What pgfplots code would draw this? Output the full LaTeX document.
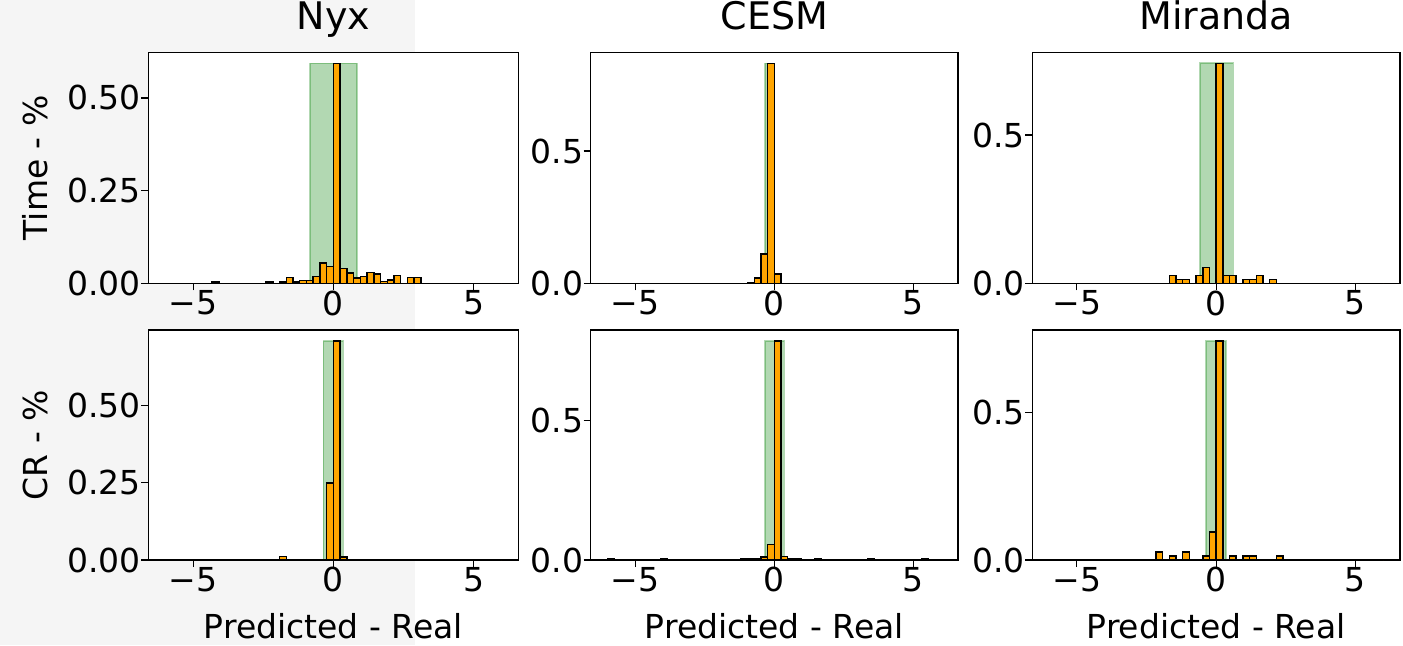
\documentclass[border=0pt]{standalone}
\usepackage{fontspec}
\setmainfont{DejaVu Sans}
\usepackage{pgfplots}
\usepackage{pgfplotstable}
\pgfplotsset{compat=1.18}
\definecolor{barorange}{HTML}{FFA500}
\definecolor{spangreen}{HTML}{008000}
\definecolor{panelgray}{HTML}{F5F5F5}

% histogram bins: left edge, then share per bin for each panel
% nt/ct/mt = Time row (Nyx, CESM, Miranda), nc/cc/mc = CR row
\pgfplotstableread{
x     nt     ct     mt     nc     cc     mc
-6.00 0      0      0      0      0.003  0
-5.76 0      0      0      0      0      0
-5.52 0      0      0      0      0      0
-5.28 0      0      0      0      0      0
-5.04 0      0      0      0      0      0
-4.80 0      0      0      0      0      0
-4.56 0      0      0      0      0      0
-4.32 0.004  0      0      0      0      0
-4.08 0      0      0      0      0.003  0
-3.84 0      0      0      0      0      0
-3.60 0      0      0      0      0      0
-3.36 0      0      0      0      0      0
-3.12 0      0      0      0      0      0
-2.88 0      0      0      0      0      0
-2.64 0      0      0      0      0      0
-2.40 0.004  0      0      0.002  0      0
-2.16 0      0      0      0.002  0.002  0.027
-1.92 0.004  0      0      0.011  0.002  0
-1.68 0.015  0      0.027  0      0      0.0135
-1.44 0.003  0      0.0135 0      0.002  0
-1.20 0.008  0      0.0135 0      0.004  0.027
-0.96 0.008  0.003  0      0      0.005  0
-0.72 0.019  0.020  0.027  0.002  0.005  0
-0.48 0.055  0.110  0.054  0.002  0.010  0.0135
-0.24 0.045  0.831  0      0.249  0.056  0.095
 0.00 0.593  0.035  0.742  0.707  0.787  0.742
 0.24 0.040  0      0.027  0.009  0.012  0
 0.48 0.028  0      0.027  0.002  0.005  0.0135
 0.72 0.014  0      0      0      0.004  0
 0.96 0.019  0      0.0135 0      0.002  0.0135
 1.20 0.029  0      0.0135 0      0      0.0135
 1.44 0.025  0      0.027  0      0.003  0
 1.68 0.005  0      0      0      0      0
 1.92 0.009  0      0.0135 0      0      0
 2.16 0.021  0      0      0      0.002  0.0135
 2.40 0      0      0      0      0      0
 2.64 0.015  0      0      0      0.002  0
 2.88 0.015  0      0      0      0      0
 3.12 0      0      0      0      0      0
 3.36 0      0      0      0      0.004  0
 3.60 0      0      0      0      0      0
 3.84 0      0      0      0      0.002  0
 4.08 0      0      0      0      0      0
 4.32 0      0      0      0      0      0
 4.56 0      0      0      0      0.002  0
 4.80 0      0      0      0      0      0
 5.04 0      0      0      0      0      0
 5.28 0      0      0      0      0.003  0
 5.52 0      0      0      0      0      0
 5.76 0      0      0      0      0.002  0
 6.00 0      0      0      0      0      0
}\hist

\pgfplotsset{
  hpanel/.style={
    scale only axis, anchor=south west,
    xmin=-6.6, xmax=6.6, ymin=0,
    xtick={-5,0,5}, xticklabels={−5,0,5},
    tick pos=left,
    tick align=outside, major tick length=3.5pt,
    tick style={black, line width=0.6pt},
    axis line style={line width=0.7pt},
    axis background/.style={fill=white},
    ticklabel style={font=\fontsize{16.5}{18}\selectfont, inner sep=0pt},
    xticklabel style={anchor=north},
    yticklabel style={anchor=east},
    label style={font=\fontsize{16.5}{18}\selectfont},
    title style={font=\fontsize{19}{22}\selectfont, at={(axis description cs:0.5,1)}, anchor=base, yshift=5.3pt},
    xlabel style={at={(axis description cs:0.5,0)}, anchor=base, yshift=-39pt},
  },
  ticks2/.style={ytick={0,0.25,0.5}, yticklabels={0.00,0.25,0.50}},
  ticks1/.style={ytick={0,0.5}, yticklabels={0.0,0.5}},
  bars/.style={ybar interval, fill=barorange, draw=black, line width=0.75pt},
  span/.style={fill=spangreen, fill opacity=0.3, draw=spangreen, draw opacity=0.3, line width=0.8pt},
}

\begin{document}
\begin{tikzpicture}
\useasboundingbox (0,0) rectangle (701.5pt,322.5pt);
\fill[panelgray] (0,0) rectangle (207.5pt,322.5pt);

% top row: Time
\begin{axis}[hpanel, ticks2, at={(74.15pt,180.85pt)}, width=185.1pt, height=115.5pt,
  ymax=0.623, title={Nyx}, ylabel={Time - \%},
  ylabel style={at={(axis description cs:-0.273,0.5)}, anchor=base}]
\addplot[span] coordinates {(-0.84,0.593) (0.84,0.593)} \closedcycle;
\addplot[bars] table[x=x,y=nt] {\hist};
\end{axis}

\begin{axis}[hpanel, ticks1, at={(295.35pt,180.85pt)}, width=183.65pt, height=115.5pt,
  ymax=0.873, title={CESM}]
\addplot[span] coordinates {(-0.33,0.831) (-0.03,0.831)} \closedcycle;
\addplot[bars] table[x=x,y=ct] {\hist};
\end{axis}

\begin{axis}[hpanel, ticks1, at={(516.15pt,180.85pt)}, width=183.85pt, height=115.5pt,
  ymax=0.779, title={Miranda}]
\addplot[span] coordinates {(-0.57,0.742) (0.62,0.742)} \closedcycle;
\addplot[bars] table[x=x,y=mt] {\hist};
\end{axis}

% bottom row: CR
\begin{axis}[hpanel, ticks2, at={(74.15pt,42.5pt)}, width=185.1pt, height=115pt,
  ymax=0.743, xlabel={Predicted - Real}, ylabel={CR - \%},
  ylabel style={at={(axis description cs:-0.273,0.5)}, anchor=base}]
\addplot[span] coordinates {(-0.36,0.707) (0.36,0.707)} \closedcycle;
\addplot[bars] table[x=x,y=nc] {\hist};
\end{axis}

\begin{axis}[hpanel, ticks1, at={(295.35pt,42.5pt)}, width=183.65pt, height=115pt,
  ymax=0.826, xlabel={Predicted - Real}]
\addplot[span] coordinates {(-0.33,0.787) (0.36,0.787)} \closedcycle;
\addplot[bars] table[x=x,y=cc] {\hist};
\end{axis}

\begin{axis}[hpanel, ticks1, at={(516.15pt,42.5pt)}, width=183.85pt, height=115pt,
  ymax=0.779, xlabel={Predicted - Real}]
\addplot[span] coordinates {(-0.36,0.742) (0.36,0.742)} \closedcycle;
\addplot[bars] table[x=x,y=mc] {\hist};
\end{axis}
\end{tikzpicture}
\end{document}
